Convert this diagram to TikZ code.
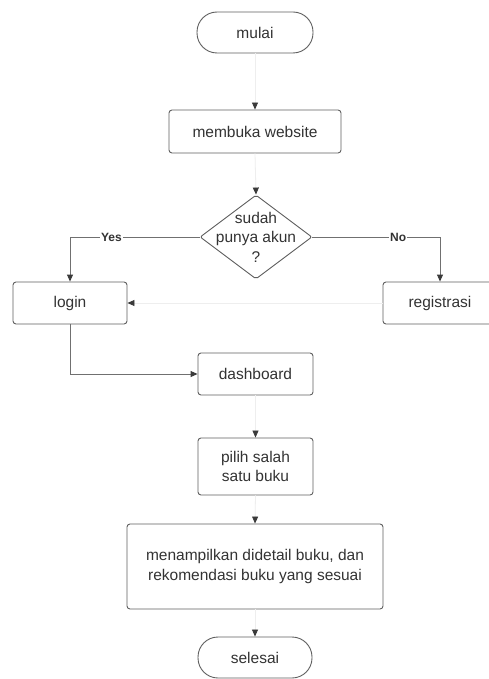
\documentclass[tikz,border=0pt]{standalone}
\usepackage{fontspec}
\setmainfont{Liberation Sans}
\usetikzlibrary{arrows.meta,shapes.geometric}
\definecolor{txt}{HTML}{333333}
\definecolor{bord}{HTML}{606060}
\definecolor{conn}{HTML}{707070}
\definecolor{faint}{HTML}{EEEEEE}
\definecolor{tipc}{HTML}{3A3A3A}
\begin{document}
\begin{tikzpicture}[x=1pt,y=-1pt,
  box/.style={draw=bord, line width=0.9pt, rounded corners=3pt, text=txt, align=center,
    inner sep=0pt, font=\fontsize{15.5}{19.5}\selectfont},
  term/.style={box, rounded corners=20pt, minimum width=116pt, minimum height=41pt},
  txtnode/.style={text=txt, align=center, inner sep=0pt, font=\fontsize{15.5}{19.5}\selectfont},
  arr/.style={-{Triangle[width=6pt,length=7pt,color=tipc]}},
  faintline/.style={arr, draw=faint, line width=0.8pt},
  connline/.style={arr, draw=conn, line width=0.9pt},
  lbl/.style={fill=white, text=txt, inner sep=1pt, font=\fontsize{12}{14}\selectfont\bfseries}
]
\useasboundingbox (0,0) rectangle (489,679);
\clip (0,0) rectangle (489,679);
\fill[white] (0,0) rectangle (489,679);

\node[term] (mulai) at (255,32.5) {mulai};
\node[box, minimum width=172pt, minimum height=43pt] (buka) at (255,131.5) {membuka website};
\node[diamond, draw=bord, line width=0.9pt, rounded corners=2pt, minimum width=112pt, minimum height=84pt, inner sep=0pt] (akun) at (256,237) {};
\node[txtnode] (akuntxt) at (akun.center) {sudah\\punya akun\\?};
\node[box, minimum width=114pt, minimum height=42pt] (login) at (70,303) {login};
\node[box, minimum width=114pt, minimum height=42pt] (reg) at (440,303) {registrasi};
\node[box, minimum width=115pt, minimum height=42pt] (dash) at (255.5,374) {dashboard};
\node[box, minimum width=115pt, minimum height=57pt] (pilih) at (255.5,466.5) {pilih salah\\satu buku};
\node[box, minimum width=256pt, minimum height=85pt] (tampil) at (255,566.5) {menampilkan didetail buku, dan\\rekomendasi buku yang sesuai};
\node[term, minimum width=114pt] (selesai) at (255,657.5) {selesai};

\draw[faintline] (mulai.south) -- (buka.north);
\draw[faintline] (buka.south) -- (akun.north);
\draw[connline] (akun.west) -| node[lbl, pos=0.34] {Yes} (login.north);
\draw[connline] (akun.east) -| node[lbl, pos=0.336] {No} (reg.north);
\draw[faintline] (reg.west) -- (login.east);
\draw[connline] (login.south) |- (dash.west);
\draw[faintline] (dash.south) -- (pilih.north);
\draw[faintline] (pilih.south) -- (tampil.north);
\draw[faintline] (tampil.south) -- (selesai.north);
\end{tikzpicture}
\end{document}
